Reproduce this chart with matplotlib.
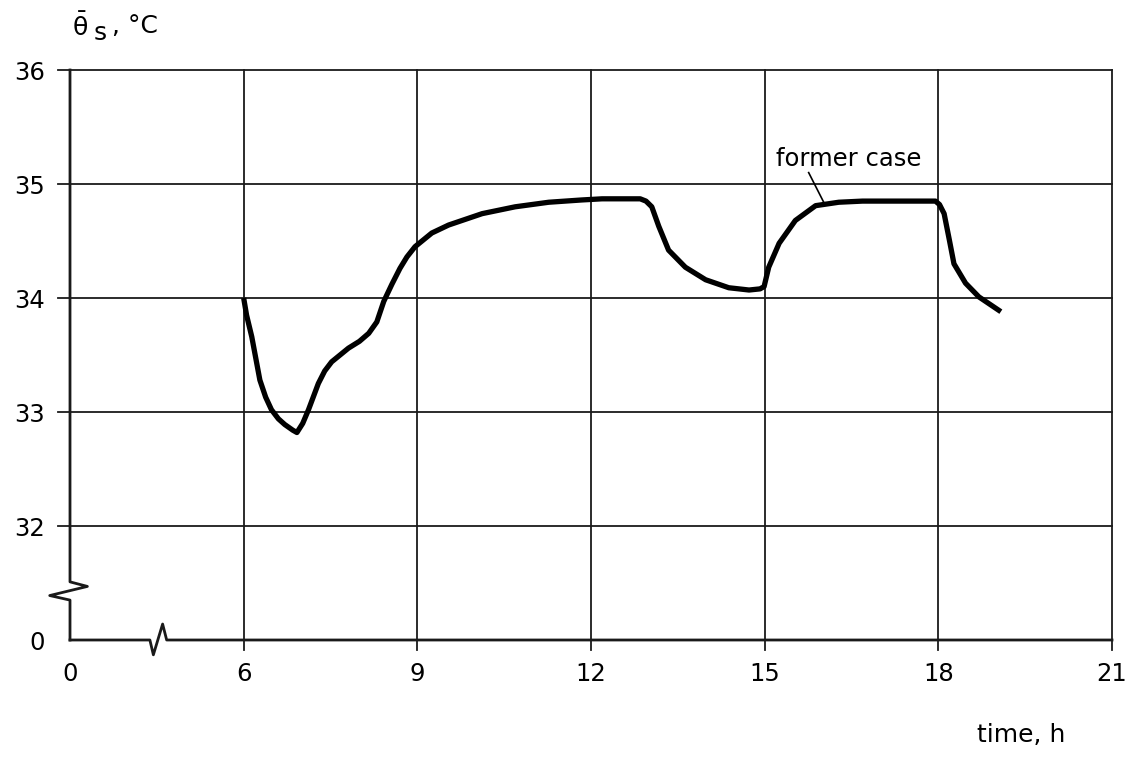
import numpy as np
import matplotlib.pyplot as plt

plt.rcParams['font.family'] = ['DejaVu Sans']
plt.rcParams['mathtext.fontset'] = 'dejavusans'

# values (time in h, mean surface temperature in C)
time_h = [6.0, 6.05, 6.14, 6.28, 6.38, 6.48, 6.6, 6.71, 6.85, 6.92, 7.02, 7.12,
          7.29, 7.4, 7.52, 7.81, 8.0, 8.16, 8.3, 8.42, 8.56, 8.70, 8.82, 8.96,
          9.25, 9.54, 10.12, 10.69, 11.27, 11.84, 12.19, 12.6, 12.85, 12.95,
          13.05, 13.17, 13.34, 13.63, 13.98, 14.38, 14.73, 14.92, 14.99, 15.07,
          15.25, 15.53, 15.88, 16.28, 16.69, 17.3, 17.95, 18.02, 18.10, 18.19,
          18.27, 18.47, 18.70, 19.08]
theta_s = [34.0, 33.85, 33.66, 33.28, 33.13, 33.02, 32.94, 32.89, 32.84, 32.82,
           32.9, 33.02, 33.25, 33.36, 33.44, 33.56, 33.62, 33.69, 33.79, 33.97,
           34.12, 34.26, 34.36, 34.45, 34.57, 34.64, 34.74, 34.80, 34.84, 34.86,
           34.87, 34.87, 34.87, 34.85, 34.80, 34.63, 34.42, 34.27, 34.16, 34.09,
           34.07, 34.08, 34.10, 34.27, 34.48, 34.68, 34.81, 34.84, 34.85, 34.85,
           34.85, 34.82, 34.74, 34.51, 34.30, 34.13, 34.01, 33.88]

x_ticks = [6, 9, 12, 15, 18, 21]
x_labels = ['0', '6', '9', '12', '15', '18', '21']
y_ticks = [32, 33, 34, 35, 36]
y_labels = ['0', '32', '33', '34', '35', '36']

# broken axes: hour 0 is drawn where 3 would be, 0 C where 31 would be
X0, Y0 = 3, 31

fig = plt.figure(figsize=(11.41, 7.57), dpi=100)
ax = fig.add_axes([70 / 1141, 117 / 757, 1042 / 1141, 570 / 757])
ax.set_xlim(X0, 21)
ax.set_ylim(Y0, 36)
for s in ax.spines.values():
    s.set_visible(False)

ax.set_xticks([X0] + x_ticks)
ax.set_xticklabels(x_labels, fontsize=17.5)
ax.set_yticks([Y0] + y_ticks)
ax.set_yticklabels(y_labels, fontsize=17.5)
ax.tick_params(length=0)
ax.tick_params(axis='x', pad=16)
ax.tick_params(axis='y', pad=18)

lc = '#1a1a1a'
# horizontal grid lines with short ticks to the left
for y in y_ticks:
    ax.plot([2.79, 21], [y, y], color=lc, lw=1.3, clip_on=False)
# vertical grid lines with short ticks below
for x in x_ticks:
    ax.plot([x, x], [30.91, 36], color=lc, lw=1.3, clip_on=False)

# left axis with break
ax.plot([X0, X0, 3.30, 2.65, X0, X0], [36, 31.51, 31.47, 31.39, 31.35, Y0],
        color=lc, lw=2, clip_on=False)
# bottom axis with break
ax.plot([X0, 4.38, 4.44, 4.60, 4.67, 21], [Y0, Y0, 30.87, 31.14, Y0, Y0],
        color=lc, lw=2, clip_on=False)

ax.plot(time_h, theta_s, color='black', lw=3.8, solid_joinstyle='round',
        solid_capstyle='butt')

ax.text(15.19, 35.16, 'former case', fontsize=17.5, va='baseline', ha='left')
ax.plot([15.76, 16.02], [35.1, 34.84], color='black', lw=1.2)

fig.text(72 / 1141, 1 - 27 / 757, r'$\bar{\mathrm{\theta}}$', fontsize=18, va='center')
fig.text(94 / 1141, 1 - 33 / 757, 's', fontsize=18, va='center')
fig.text(112 / 1141, 1 - 26 / 757, ', °C', fontsize=18, va='center')
fig.text(1021 / 1141, 1 - 735 / 757, 'time, h', fontsize=18, ha='center', va='center')

fig.savefig('out.png', dpi=100)
